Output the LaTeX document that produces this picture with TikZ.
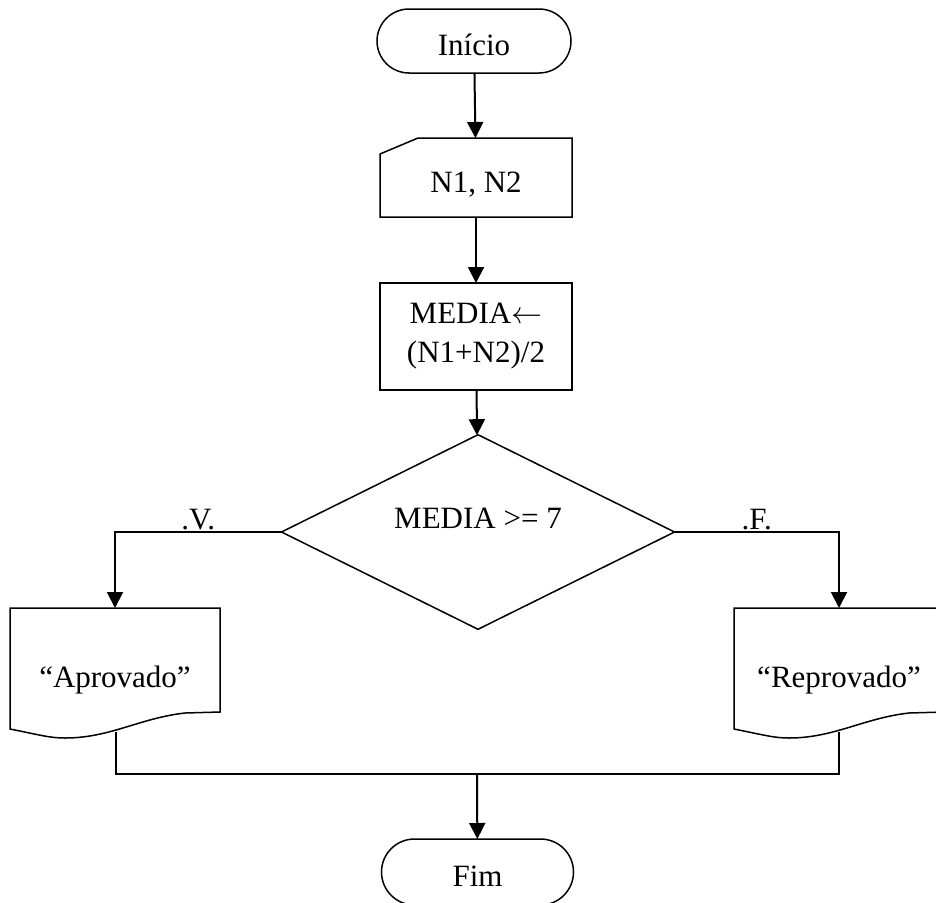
\documentclass[tikz,border=0pt]{standalone}
\usepackage{graphicx}
\usepackage{fontspec}
\setmainfont{Liberation Serif}
\usetikzlibrary{shapes.geometric,shapes.misc,arrows.meta}
\begin{document}
\begin{tikzpicture}[x=1pt,y=-1pt,
  every node/.style={font=\fontsize{31}{39}\selectfont, inner sep=0pt, outer sep=0pt},
  shapeline/.style={line width=1.5pt},
  term/.style={rounded rectangle, draw, shapeline, minimum width=194pt, minimum height=64pt},
  procbox/.style={rectangle, draw, shapeline, minimum width=192pt, minimum height=107pt, align=center},
  inbox/.style={rectangle, minimum width=192pt, minimum height=79pt},
  docbox/.style={rectangle, minimum width=210pt, minimum height=104pt, text height=55pt, text depth=0pt},
  arr/.style={line width=2pt, -{Triangle[length=16pt,width=16pt]}},
  conn/.style={line width=1.5pt},
  lbl/.style={anchor=base, yshift=3pt}]
\useasboundingbox (0,0) rectangle (936,902);

% nodes
\node[term, text height=28pt, text depth=0pt] (ini) at (474,41) {Início};
\node[inbox, text height=30pt, text depth=0pt] (in) at (476,177.5) {N1, N2};
\draw[shapeline] (in.south west) -- (in.south east) -- (in.north east)
  -- ([xshift=38pt]in.north west) -- ([yshift=-16pt]in.north west) -- cycle;
\node[procbox] (proc) at (476,336.5) {MEDIA\resizebox{31pt}{!}{$\leftarrow$}\\(N1+N2)/2};
\node[diamond, draw, shapeline, minimum width=393pt, minimum height=152pt,
  text height=10pt, text depth=17pt] (dec) at (478,532) {MEDIA >= 7};
\node[docbox] (apr) at (115,660) {“Aprovado”};
\node[docbox] (rep) at (839,660) {“Reprovado”};
\foreach \d in {apr,rep}{
  \draw[shapeline] (\d.south east) -- ++(-35,1)
    .. controls +(-45,5) and +(45,0) .. ++(-120,25)
    .. controls +(-15,0) and +(30,6) .. ++(-55,-9)
    -- (\d.north west) -- (\d.north east) -- cycle;
}
\node[term, minimum width=192pt, minimum height=66pt, text height=29pt, text depth=0pt] (fim) at (477.5,872) {Fim};

% connectors
\draw[arr] (ini) -- (in);
\draw[arr] (in) -- (proc);
\draw[arr] (proc) -- (dec);
\draw[arr] (dec.west) -| node[pos=0.25, lbl] {.V.} (apr.north);
\draw[arr] (dec.east) -| node[pos=0.25, lbl] {.F.} (rep.north);
\coordinate (aprout) at ([xshift=1pt,yshift=-20pt]apr.south);
\coordinate (repout) at ([yshift=-20pt]rep.south);
\coordinate (jn) at (477,774);
\draw[conn] (aprout) |- (jn) -| (repout);
\draw[arr] (jn) -- (fim);
\end{tikzpicture}
\end{document}
